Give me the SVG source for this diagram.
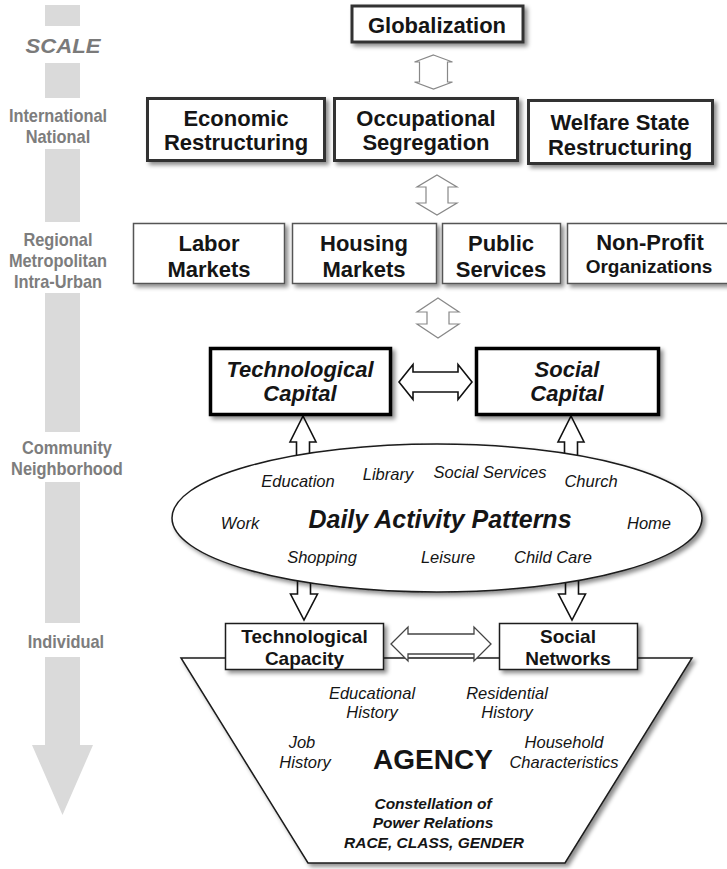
<svg xmlns="http://www.w3.org/2000/svg" width="727" height="869" viewBox="0 0 727 869">
  <defs>
    <filter id="shadow" x="-10%" y="-10%" width="130%" height="140%">
      <feDropShadow dx="3" dy="3" stdDeviation="2" flood-color="#000" flood-opacity="0.45"/>
    </filter>
  </defs>
  <style>
    text { font-family: "Liberation Sans", Arial, sans-serif; text-anchor: middle; fill: #151515; }
    .scale { fill: #7d7d7d; font-weight: bold; font-size: 18px; }
    .big { font-weight: bold; font-size: 22px; }
    .cap { font-weight: bold; font-style: italic; font-size: 22px; }
    .mid { font-weight: bold; font-size: 19px; }
    .it { font-style: italic; font-size: 16.5px; }
    .bi { font-weight: bold; font-style: italic; font-size: 15.5px; }
    .heavy { fill: #fff; stroke: #333; stroke-width: 3; filter: url(#shadow); }
    .light { fill: #fff; stroke: #555; stroke-width: 1.5; filter: url(#shadow); }
    .strong { fill: #fff; stroke: #000; stroke-width: 3.5; filter: url(#shadow); }
    .thin { fill: #fff; stroke: #1a1a1a; stroke-width: 1.5; filter: url(#shadow); }
    .grayarrow { fill: #fff; stroke: #888; stroke-width: 1.2; }
    .darkarrow { fill: #fff; stroke: #111; stroke-width: 1.6; }
    .midarrow { fill: #fff; stroke: #444; stroke-width: 1.3; }
    .bar { fill: #dadada; }
  </style>

  <!-- scale axis on the left -->
  <g id="scale">
    <rect class="bar" x="45" y="5" width="35" height="21"/>
    <rect class="bar" x="45" y="63" width="35" height="35"/>
    <rect class="bar" x="45" y="149" width="35" height="73"/>
    <rect class="bar" x="45" y="293" width="35" height="139"/>
    <rect class="bar" x="45" y="482" width="35" height="141"/>
    <polygon class="bar" points="45,657 80,657 80,745 93,745 62.5,815 32,745 45,745"/>
    <text x="63" y="53" style="fill:#7a7a7a;font-weight:bold;font-style:italic;font-size:21px" textLength="75" lengthAdjust="spacingAndGlyphs">SCALE</text>
    <!-- level names, set in a narrowed face -->
    <g transform="scale(0.91 1)">
      <text class="scale" x="63.7" y="122">International</text>
      <text class="scale" x="63.7" y="143">National</text>
      <text class="scale" x="63.7" y="246">Regional</text>
      <text class="scale" x="63.7" y="267">Metropolitan</text>
      <text class="scale" x="63.7" y="288">Intra-Urban</text>
      <text class="scale" x="73.6" y="454">Community</text>
      <text class="scale" x="73.6" y="475">Neighborhood</text>
      <text class="scale" x="72.5" y="648">Individual</text>
    </g>
  </g>

  <!-- agency funnel -->
  <g id="agency">
    <polygon class="thin" points="181,658 692,658 565,863 308,863"/>
    <text class="it" x="372" y="699">Educational</text>
    <text class="it" x="372" y="718">History</text>
    <text class="it" x="507" y="699">Residential</text>
    <text class="it" x="507" y="718">History</text>
    <text class="it" x="302" y="748">Job</text>
    <text class="it" x="305" y="768">History</text>
    <text x="433" y="769" style="font-weight:bold;font-size:28px">AGENCY</text>
    <text class="it" x="564" y="748">Household</text>
    <text class="it" x="564" y="768">Characteristics</text>
    <text class="bi" x="433" y="809">Constellation of</text>
    <text class="bi" x="433" y="828">Power Relations</text>
    <text class="bi" x="434" y="848">RACE, CLASS, GENDER</text>
  </g>

  <!-- connectors -->
  <g id="connectors">
    <!-- Globalization <-> national row -->
    <polygon class="grayarrow" points="433.5,55 452.5,62 447.5,62 447.5,82 452.5,82 433.5,89 414.5,82 419.5,82 419.5,62 414.5,62"/>
    <!-- national row <-> regional row -->
    <polygon class="grayarrow" points="437,175 457,187 448,187 448,203 457,203 437,215 417,203 426,203 426,187 417,187"/>
    <!-- regional row <-> capitals -->
    <polygon class="grayarrow" points="438,298 459,312 449,312 449,324 459,324 438,338 417,324 427,324 427,312 417,312"/>
    <!-- technological capital <-> social capital -->
    <polygon class="darkarrow" points="399,382 413,364.5 413,372 458,372 458,364.5 472,382 458,399.5 458,392 413,392 413,399.5"/>
    <!-- daily activity patterns -> capitals -->
    <polygon class="darkarrow" points="303,416 316,442 309.5,442 309.5,475 296.5,475 296.5,442 290,442"/>
    <polygon class="darkarrow" points="571,416 584,442 577.5,442 577.5,475 564.5,475 564.5,442 558,442"/>
    <!-- daily activity patterns -> individual -->
    <polygon class="darkarrow" points="297.5,565 310.5,565 310.5,594 317.5,594 304,620 290.5,594 297.5,594"/>
    <polygon class="darkarrow" points="565.5,565 578.5,565 578.5,594 585.5,594 572,620 558.5,594 565.5,594"/>
    <!-- technological capacity <-> social networks -->
    <polygon class="midarrow" points="391,644 408,627 408,634 474,634 474,627 491,644 474,661 474,654 408,654 408,661"/>
  </g>

  <!-- daily activity patterns -->
  <g id="activities">
    <ellipse class="thin" cx="437" cy="518" rx="265" ry="74"/>
    <text class="it" x="298" y="487">Education</text>
    <text class="it" x="388" y="480">Library</text>
    <text class="it" x="490" y="478">Social Services</text>
    <text class="it" x="591" y="487">Church</text>
    <text class="it" x="240" y="529">Work</text>
    <text x="440" y="528" style="font-weight:bold;font-style:italic;font-size:25px">Daily Activity Patterns</text>
    <text class="it" x="649" y="529">Home</text>
    <text class="it" x="322" y="563">Shopping</text>
    <text class="it" x="448" y="563">Leisure</text>
    <text class="it" x="553" y="563">Child Care</text>
  </g>

  <g id="globalization">
    <rect class="heavy" x="352" y="6" width="171" height="36"/>
    <text class="big" x="437" y="33">Globalization</text>
  </g>

  <g id="economic-restructuring">
    <rect class="heavy" x="147.5" y="98.5" width="177" height="62"/>
    <text class="big" x="236" y="126">Economic</text>
    <text class="big" x="236" y="150">Restructuring</text>
  </g>
  <g id="occupational-segregation">
    <rect class="heavy" x="334.5" y="98.5" width="183" height="62"/>
    <text class="big" x="426" y="126">Occupational</text>
    <text class="big" x="426" y="150">Segregation</text>
  </g>
  <g id="welfare-state-restructuring">
    <rect class="heavy" x="528.5" y="100.5" width="184" height="63"/>
    <text class="big" x="620" y="130">Welfare State</text>
    <text class="big" x="620" y="155">Restructuring</text>
  </g>

  <g id="labor-markets">
    <rect class="light" x="133.5" y="223.5" width="151" height="60"/>
    <text class="big" x="209" y="251">Labor</text>
    <text class="big" x="209" y="277">Markets</text>
  </g>
  <g id="housing-markets">
    <rect class="light" x="292.5" y="223.5" width="144" height="60"/>
    <text class="big" x="364" y="251">Housing</text>
    <text class="big" x="364" y="277">Markets</text>
  </g>
  <g id="public-services">
    <rect class="light" x="442.5" y="223.5" width="118" height="60"/>
    <text class="big" x="501" y="251">Public</text>
    <text class="big" x="501" y="277">Services</text>
  </g>
  <g id="non-profit-organizations">
    <rect class="light" x="567.5" y="223.5" width="170" height="60"/>
    <text class="big" x="650" y="250">Non-Profit</text>
    <text x="649" y="273" style="font-weight:bold;font-size:19px">Organizations</text>
  </g>

  <g id="technological-capital">
    <rect class="strong" x="210.5" y="348.5" width="180" height="66"/>
    <text class="cap" x="300" y="377">Technological</text>
    <text class="cap" x="300" y="401">Capital</text>
  </g>
  <g id="social-capital">
    <rect class="strong" x="476.5" y="348.5" width="182" height="66"/>
    <text class="cap" x="567" y="377">Social</text>
    <text class="cap" x="567" y="401">Capital</text>
  </g>

  <g id="technological-capacity">
    <rect class="thin" x="225.5" y="623.5" width="158" height="46"/>
    <text class="mid" x="304.5" y="643">Technological</text>
    <text class="mid" x="304.5" y="665">Capacity</text>
  </g>
  <g id="social-networks">
    <rect class="thin" x="499.5" y="623.5" width="138" height="46"/>
    <text class="mid" x="568" y="643">Social</text>
    <text class="mid" x="568" y="665">Networks</text>
  </g>
</svg>
